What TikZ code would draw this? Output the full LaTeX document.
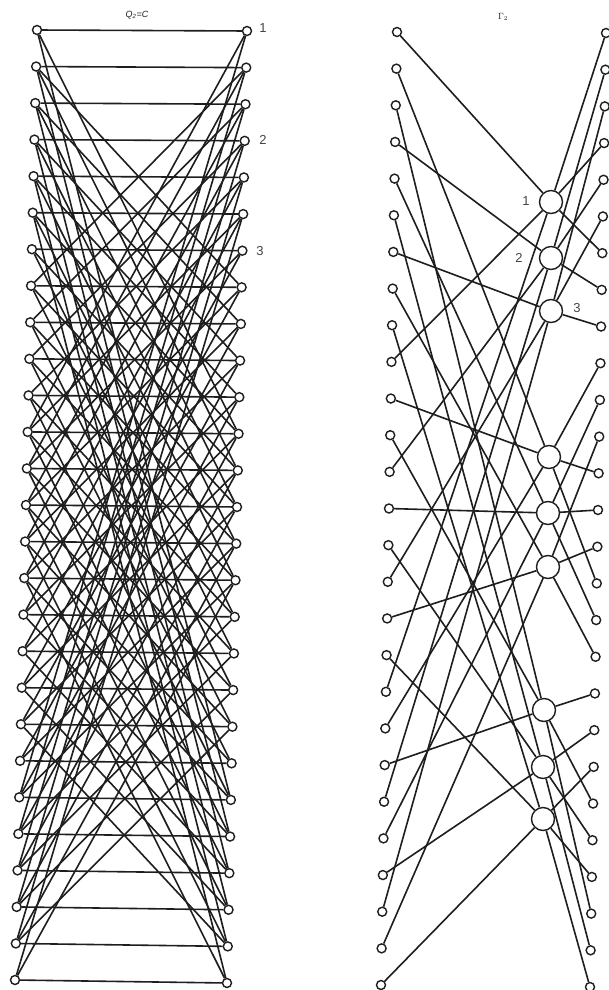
\documentclass[tikz,border=0pt]{standalone}
\usepackage{fontspec}
\newfontfamily\labfont{Liberation Sans}
\usetikzlibrary{backgrounds}
\definecolor{ink}{HTML}{1E1E1E}
\definecolor{labc}{HTML}{444444}
\begin{document}
\begin{tikzpicture}[x=1pt,y=-1pt,
  sn/.style={circle,draw=ink,fill=white,line width=1.4pt,inner sep=0pt,minimum size=9pt},
  bn/.style={circle,draw=ink,fill=white,line width=1.4pt,inner sep=0pt,minimum size=23pt},
  edge/.style={draw=ink,line width=1.6pt},
  lab/.style={text=labc,font=\labfont\fontsize{13}{13}\selectfont,inner sep=0pt},
  ttl/.style={text=ink,font=\labfont\fontsize{9}{9}\selectfont,inner sep=0pt}]
\useasboundingbox (0,0) rectangle (608,990);
% ---------- Q_2 = C nodes ----------
\foreach \i in {1,...,27}{
  \pgfmathsetmacro\lx{37-(22/26)*(\i-1)}
  \pgfmathsetmacro\ly{30+(950/26)*(\i-1)}
  \pgfmathsetmacro\rx{247-(20/26)*(\i-1)}
  \pgfmathsetmacro\ry{31+(952/26)*(\i-1)}
  \node[sn] (ql\i) at (\lx,\ly) {};
  \node[sn] (qr\i) at (\rx,\ry) {};
}
% ---------- Gamma_2 nodes ----------
\foreach \i in {1,...,27}{
  \pgfmathsetmacro\lx{397-(16/26)*(\i-1)}
  \pgfmathsetmacro\ly{32+(953/26)*(\i-1)}
  \pgfmathsetmacro\rx{606-(16/26)*(\i-1)}
  \pgfmathsetmacro\ry{33+(954/26)*(\i-1)}
  \node[sn] (gl\i) at (\lx,\ly) {};
  \node[sn] (gr\i) at (\rx,\ry) {};
}
\node[bn] (c1) at (551,202) {};
\node[bn] (c2) at (551,258) {};
\node[bn] (c3) at (551,311) {};
\node[bn] (c4) at (549,457) {};
\node[bn] (c5) at (548,513) {};
\node[bn] (c6) at (548,567) {};
\node[bn] (c7) at (544,710) {};
\node[bn] (c8) at (543,767) {};
\node[bn] (c9) at (543,819) {};
% ---------- labels ----------
\node[ttl] (tq) at (137,15) {\itshape Q\textsubscript{2}=C};
\node[ttl,font=\fontsize{9}{9}\selectfont] (tg) at (503,17) {$\Gamma_2$};
\node[lab] (q1) at (263,28) {1};
\node[lab] (q2) at (263,140) {2};
\node[lab] (q3) at (260,251) {3};
\node[lab] (g1) at (526,201) {1};
\node[lab] (g2) at (519,258) {2};
\node[lab] (g3) at (577,308) {3};
% ---------- edges ----------
\begin{pgfonlayer}{background}
\fill[white] (0,0) rectangle (608,990);
\foreach \i in {1,...,27}{
  \draw[edge] (ql\i) -- (qr\i);
  \foreach \d in {6,11,21}{
    \pgfmathtruncatemacro\j{\i+\d}
    \pgfmathtruncatemacro\ok{(\j<28)&&(!((\d==6)&&((\i==1)||(\j==27))))}
    \ifnum\ok=1
      \draw[edge] (ql\i) -- (qr\j);
      \draw[edge] (qr\i) -- (ql\j);
    \fi
  }
}
% left nodes -> circles (residues mod 9)
\foreach \c/\a/\b/\e in {1/1/10/19,2/4/13/22,3/7/16/25,4/2/11/20,5/5/14/23,6/8/17/26,7/3/12/21,8/6/15/24,9/9/18/27}{
  \draw[edge] (gl\a) -- (c\c);
  \draw[edge] (gl\b) -- (c\c);
  \draw[edge] (gl\e) -- (c\c);
}
% circles -> right nodes (blocks of 9, residues mod 3)
\foreach \c/\a/\b/\e in {1/1/4/7,2/2/5/8,3/3/6/9,4/10/13/16,5/11/14/17,6/12/15/18,7/19/22/25,8/20/23/26,9/21/24/27}{
  \draw[edge] (c\c) -- (gr\a);
  \draw[edge] (c\c) -- (gr\b);
  \draw[edge] (c\c) -- (gr\e);
}
\end{pgfonlayer}
\end{tikzpicture}
\end{document}
